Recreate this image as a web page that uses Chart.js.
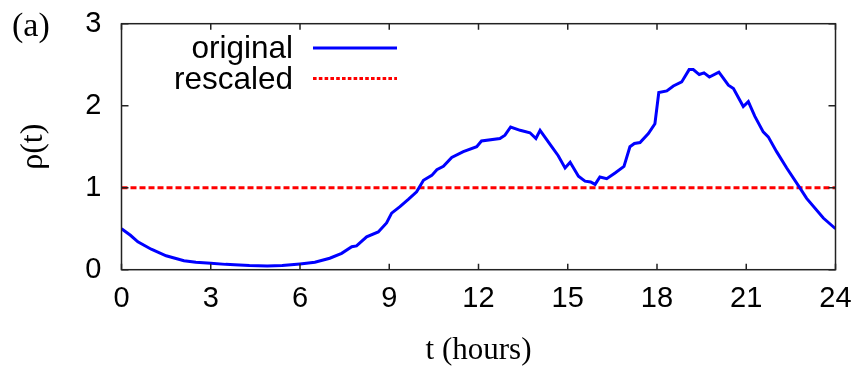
<!DOCTYPE html>
<html>
<head>
  <meta charset="UTF-8">
  <title>rho(t)</title>
  <script src="https://cdn.jsdelivr.net/npm/chart.js"></script>
  <style>
    body {
      margin: 0;
      background: #fff;
    }
    canvas {
      display: block;
    }
  </style>
</head>
<body>
  <canvas id="rhoChart" width="861" height="366"></canvas>

  <script>
    // values
    const tHours = [0, 0.3, 0.55, 1.0, 1.5, 2.1, 2.5, 3.0, 3.5, 3.8, 4.3, 4.9, 5.4, 5.7, 6.0, 6.5, 7.0, 7.4, 7.74, 7.9,
      8.24, 8.63, 8.91, 9.08, 9.36, 9.65, 9.92, 10.15, 10.43, 10.6, 10.82, 11.1, 11.49, 11.94, 12.1, 12.72, 12.89, 13.08,
      13.4, 13.73, 13.93, 14.07, 14.46, 14.68, 14.91, 15.08, 15.36, 15.58, 15.77, 15.92, 16.08, 16.31, 16.59, 16.89,
      17.09, 17.24, 17.43, 17.71, 17.93, 18.06, 18.33, 18.55, 18.83, 19.08, 19.22, 19.42, 19.58, 19.76, 20.08, 20.4,
      20.57, 20.9, 21.07, 21.29, 21.57, 21.74, 22.02, 22.36, 22.78, 23.03, 23.59, 24.0];
    const rhoOriginal = [0.50, 0.42, 0.34, 0.25, 0.17, 0.11, 0.09, 0.08, 0.065, 0.06, 0.05, 0.045, 0.05, 0.06, 0.07, 0.09,
      0.14, 0.20, 0.28, 0.29, 0.40, 0.46, 0.57, 0.69, 0.77, 0.86, 0.95, 1.09, 1.15, 1.22, 1.26, 1.37, 1.44, 1.50, 1.57,
      1.60, 1.64, 1.74, 1.70, 1.67, 1.60, 1.70, 1.50, 1.39, 1.24, 1.31, 1.14, 1.08, 1.07, 1.04, 1.13, 1.11, 1.18, 1.26,
      1.50, 1.54, 1.55, 1.66, 1.78, 2.16, 2.18, 2.24, 2.29, 2.44, 2.44, 2.38, 2.40, 2.35, 2.41, 2.25, 2.21, 1.99, 2.05,
      1.87, 1.68, 1.62, 1.44, 1.24, 1.01, 0.87, 0.63, 0.50];
    const tRescaled = [0, 24];
    const rhoRescaled = [1, 1];
    const seriesNames = ['original', 'rescaled'];
    const xTickStep = 3;
    const yTickStep = 1;

    const sans = "'Liberation Sans', Arial, sans-serif";
    const serif = "'Liberation Serif', 'Times New Roman', serif";

    // frame, inward ticks, legend and panel label, gnuplot style
    const gnuplotDecor = {
      id: 'gnuplotDecor',
      afterDraw(chart) {
        const ctx = chart.ctx;
        const area = chart.chartArea;
        const xs = chart.scales.x;
        const ys = chart.scales.y;
        ctx.save();
        ctx.strokeStyle = '#222';
        ctx.lineWidth = 1.5;
        ctx.strokeRect(area.left, area.top, area.right - area.left, area.bottom - area.top);

        ctx.beginPath();
        xs.ticks.forEach(t => {
          const px = xs.getPixelForValue(t.value);
          ctx.moveTo(px, area.bottom);
          ctx.lineTo(px, area.bottom - 6);
          ctx.moveTo(px, area.top);
          ctx.lineTo(px, area.top + 6);
        });
        ys.ticks.forEach(t => {
          const py = ys.getPixelForValue(t.value);
          ctx.moveTo(area.left, py);
          ctx.lineTo(area.left + 7, py);
          ctx.moveTo(area.right, py);
          ctx.lineTo(area.right - 7, py);
        });
        ctx.stroke();

        // legend
        const ds = chart.data.datasets;
        ctx.font = '31.5px ' + sans;
        ctx.fillStyle = '#000';
        ctx.textAlign = 'right';
        ctx.textBaseline = 'alphabetic';
        const rows = [58, 88.5];
        ds.forEach((d, i) => {
          ctx.fillText(d.label, 293, rows[i]);
          ctx.beginPath();
          ctx.strokeStyle = d.borderColor;
          ctx.lineWidth = d.borderWidth;
          ctx.setLineDash(i === 1 ? [3.6, 2.2] : []);
          ctx.moveTo(313, rows[i] - 10);
          ctx.lineTo(397, rows[i] - 10);
          ctx.stroke();
        });
        ctx.setLineDash([]);

        ctx.font = '34px ' + serif;
        ctx.textAlign = 'left';
        ctx.fillText('(a)', 12, 36);
        ctx.restore();
      }
    };

    new Chart(document.getElementById('rhoChart'), {
      type: 'line',
      data: {
        datasets: [{
          label: seriesNames[0],
          data: tHours.map((t, i) => ({ x: t, y: rhoOriginal[i] })),
          borderColor: '#0000ff',
          borderWidth: 3,
          pointRadius: 0,
          tension: 0
        }, {
          label: seriesNames[1],
          data: tRescaled.map((t, i) => ({ x: t, y: rhoRescaled[i] })),
          borderColor: '#ff0000',
          borderWidth: 3,
          borderDash: [6, 3],
          pointRadius: 0
        }]
      },
      options: {
        responsive: false,
        animation: false,
        layout: {
          autoPadding: false,
          padding: { left: 0, top: 23.7, right: 25.5, bottom: 0 }
        },
        plugins: {
          legend: { display: false },
          tooltip: { enabled: false }
        },
        scales: {
          x: {
            type: 'linear',
            min: 0,
            max: 24,
            grid: { display: false, drawTicks: false },
            border: { display: false },
            ticks: {
              stepSize: xTickStep,
              color: '#000',
              padding: 12,
              font: { family: sans, size: 29 }
            },
            title: {
              display: true,
              text: 't (hours)',
              color: '#000',
              padding: { top: 0, bottom: 0 },
              font: { family: serif, size: 31, lineHeight: 1 }
            },
            afterFit(scale) {
              scale.height = 96.3;
              scale.paddingLeft = 0;
              scale.paddingRight = 0;
            }
          },
          y: {
            min: 0,
            max: 3,
            grid: { display: false, drawTicks: false },
            border: { display: false },
            ticks: {
              stepSize: yTickStep,
              color: '#000',
              padding: 20,
              font: { family: sans, size: 29 }
            },
            title: {
              display: true,
              text: 'ρ(t)',
              color: '#000',
              padding: { top: 18, bottom: 0 },
              font: { family: serif, size: 32, lineHeight: 1 }
            },
            afterFit(scale) {
              scale.width = 121.5;
              scale.paddingTop = 0;
              scale.paddingBottom = 0;
            }
          }
        }
      },
      plugins: [gnuplotDecor]
    });
  </script>
</body>
</html>
